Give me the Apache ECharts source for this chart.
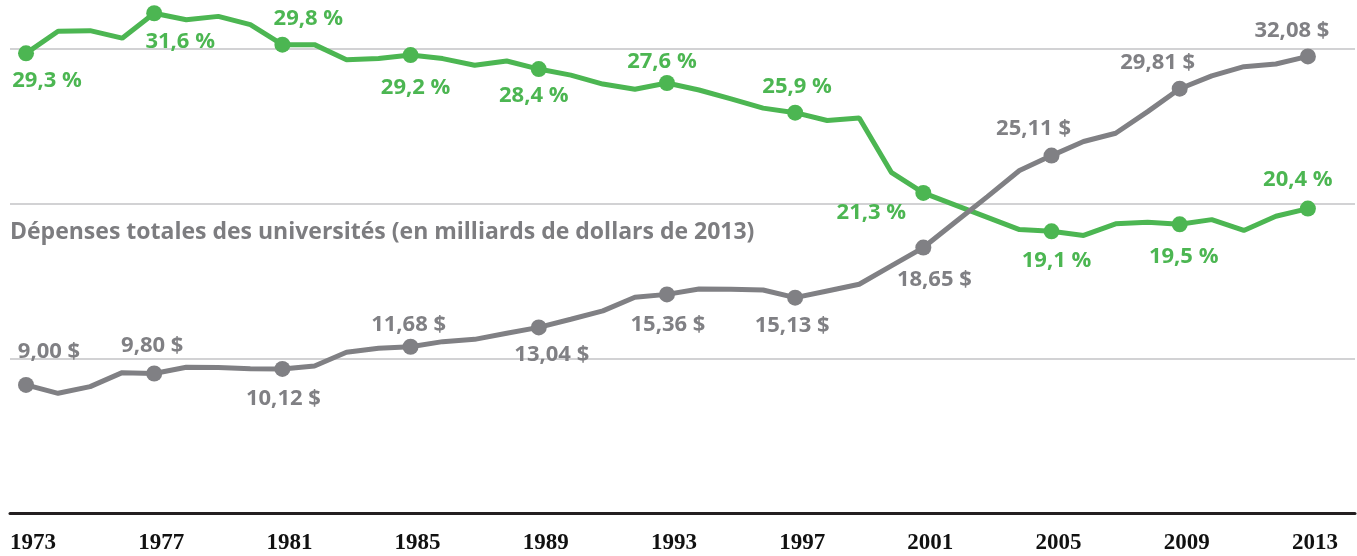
<!DOCTYPE html>
<html>
<head>
<meta charset="utf-8">
<script src="https://cdn.jsdelivr.net/npm/echarts@6/dist/echarts.min.js"></script>
<style>
  html, body { margin: 0; padding: 0; background: #fff; }
  #chart { width: 1357px; height: 556px; }
</style>
</head>
<body>
<div id="chart"></div>
<script>
// années
const years = [1973, 1974, 1975, 1976, 1977, 1978, 1979, 1980, 1981, 1982,
  1983, 1984, 1985, 1986, 1987, 1988, 1989, 1990, 1991, 1992,
  1993, 1994, 1995, 1996, 1997, 1998, 1999, 2000, 2001, 2002,
  2003, 2004, 2005, 2006, 2007, 2008, 2009, 2010, 2011, 2012, 2013]
// part (%) - ligne verte
const sharePct = [29.3, 30.57, 30.6, 30.17, 31.6, 31.23, 31.42, 30.95, 29.8, 29.8,
  28.94, 29.0, 29.2, 29.0, 28.62, 28.86, 28.4, 28.05, 27.54, 27.24,
  27.6, 27.2, 26.69, 26.16, 25.9, 25.45, 25.59, 22.48, 21.3, 20.6,
  19.9, 19.2, 19.1, 18.86, 19.53, 19.62, 19.5, 19.77, 19.15, 19.96, 20.4]
// dépenses totales (milliards $ de 2013) - ligne grise
const spending = [9.00, 8.41, 8.88, 9.86, 9.80, 10.24, 10.22, 10.14, 10.12, 10.33,
  11.29, 11.57, 11.68, 12.04, 12.2, 12.63, 13.04, 13.61, 14.2, 15.16,
  15.36, 15.74, 15.72, 15.67, 15.13, 15.6, 16.07, 17.36, 18.65, 20.45,
  22.23, 24.06, 25.11, 26.1, 26.68, 28.2, 29.81, 30.71, 31.36, 31.55, 32.08]
// années étiquetées sur l'axe
const tickYears = [1973, 1977, 1981, 1985, 1989, 1993, 1997, 2001, 2005, 2009, 2013]
const title = 'Dépenses totales des universités (en milliards de dollars de 2013)'

// décalage des étiquettes (px) par rapport au point
const greenOffsets = [[21, 27], [26, 28], [26, -26], [5, 33], [-5, 27], [-5, -21], [2, -26], [-52, 20], [5, 29], [4, 32], [-10, -29]]
const grayOffsets = [[23, -33], [-2, -28], [1, 30], [-2, -22], [13, 27], [1, 30], [-3, 28], [11, 32], [-18, -27], [-22, -26], [-16, -26]]

const GREEN = '#4cb652'
const GRAY = '#808084'
const FONT = 'Open Sans'

const fmt = (v, d) => v.toFixed(d).replace('.', ',')

function buildData(values, offsets, color, suffix, digits) {
  let k = 0
  return years.map((y, i) => {
    if (tickYears.indexOf(y) < 0) return { value: [y, values[i]], symbol: 'none' }
    const off = offsets[k++]
    return {
      value: [y, values[i]],
      symbol: 'circle',
      symbolSize: 16,
      label: {
        show: true,
        position: 'inside',
        offset: off,
        formatter: fmt(values[i], digits) + ' ' + suffix,
        color: color,
        fontFamily: FONT,
        fontWeight: 'bold',
        fontSize: 22
      }
    }
  })
}

const myChart = echarts.init(document.getElementById('chart'))

let option = {
  animation: false,
  title: {
    text: title,
    left: 5,
    top: 216,
    textStyle: { fontFamily: FONT, fontWeight: 'bold', fontSize: 23, color: '#7d7d80' }
  },
  grid: { left: 10, right: 2, top: 49, bottom: 43 },
  xAxis: {
    type: 'value',
    min: 1972.5,
    max: 2014.47,
    splitLine: { show: false },
    axisTick: { show: false },
    axisLine: { lineStyle: { color: '#231f20', width: 3 } },
    axisLabel: {
      customValues: tickYears,
      formatter: v => String(v),
      margin: 19,
      padding: [0, 0, 0, 14],
      color: '#111',
      fontFamily: 'Liberation Serif',
      fontWeight: 'bold',
      fontSize: 23
    }
  },
  yAxis: [
    { type: 'value', min: 0, max: 32.6, show: false },
    { type: 'value', min: 2.95, max: 29.55, show: false },
    {
      // lignes de repère
      type: 'value', min: 0, max: 3, interval: 1,
      axisLine: { show: false }, axisTick: { show: false }, axisLabel: { show: false },
      splitLine: { lineStyle: { color: '#d2d2d4', width: 2 } }
    }
  ],
  series: [
    {
      type: 'line',
      yAxisIndex: 1,
      clip: false,
      data: buildData(sharePct, greenOffsets, GREEN, '%', 1),
      lineStyle: { color: GREEN, width: 5 },
      itemStyle: { color: GREEN },
      z: 3
    },
    {
      type: 'line',
      yAxisIndex: 0,
      clip: false,
      data: buildData(spending, grayOffsets, GRAY, '$', 2),
      lineStyle: { color: GRAY, width: 5 },
      itemStyle: { color: GRAY },
      z: 4
    }
  ]
}

option && myChart.setOption(option)
</script>
</body>
</html>
